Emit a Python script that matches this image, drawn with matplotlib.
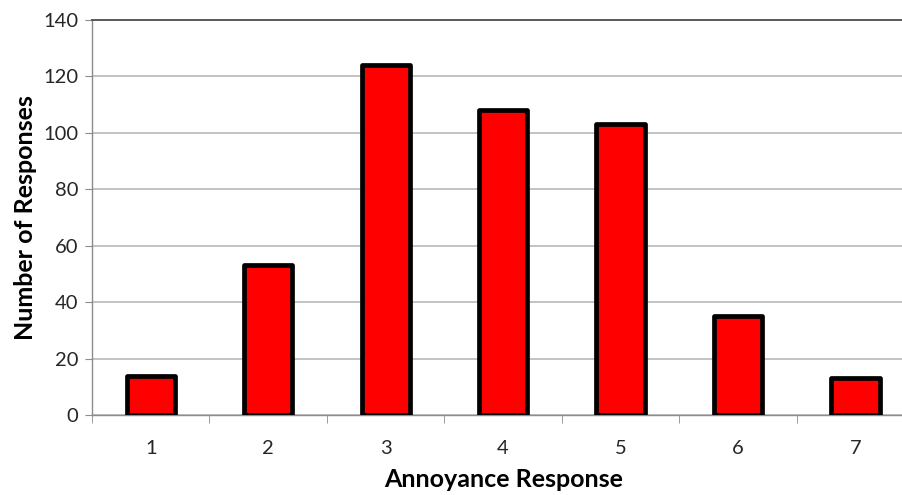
import numpy as np
import matplotlib.pyplot as plt

plt.rcParams['font.family'] = ['Lato', 'DejaVu Sans']

categories = ['1', '2', '3', '4', '5', '6', '7']
responses = [14, 53, 124, 108, 103, 35, 13]

fig = plt.figure(figsize=(9.02, 4.95), dpi=100)
# the plot area runs a little past the right edge of the picture
ax = fig.add_axes([0.102, 0.1616, 0.9115, 0.798])

x = np.arange(len(categories))
ax.bar(x, responses, width=0.41, color='#ff0000', edgecolor='black',
       linewidth=3.4, joinstyle='round', zorder=3)

ax.set_xlim(-0.5, len(categories) - 0.5)
ax.set_ylim(0, 140)
ax.set_yticks(np.arange(0, 141, 20))
ax.set_xticks(x)
ax.set_xticklabels(categories)
ax.set_xticks(np.arange(-0.5, len(categories), 1), minor=True)

ax.grid(axis='y', color='#b3b3b3', linewidth=1.1, zorder=0)
ax.spines['right'].set_visible(False)
ax.spines['top'].set_color('#595959')
ax.spines['top'].set_linewidth(1.4)
for s in ['left', 'bottom']:
    ax.spines[s].set_color('#8c8c8c')
    ax.spines[s].set_linewidth(1.0)

ax.tick_params(axis='y', length=5, color='#8c8c8c', labelsize=14.5, pad=5,
               labelcolor='#262626')
ax.tick_params(axis='x', which='major', length=0, labelsize=14.5, pad=18,
               labelcolor='#262626')
ax.tick_params(axis='x', which='minor', length=6, color='#8c8c8c')

ax.set_xlabel('Annoyance Response', fontsize=18, fontweight='bold', labelpad=8)
ax.set_ylabel('Number of Responses', fontsize=18, fontweight='bold', labelpad=4)

fig.savefig('out.png', dpi=100)
